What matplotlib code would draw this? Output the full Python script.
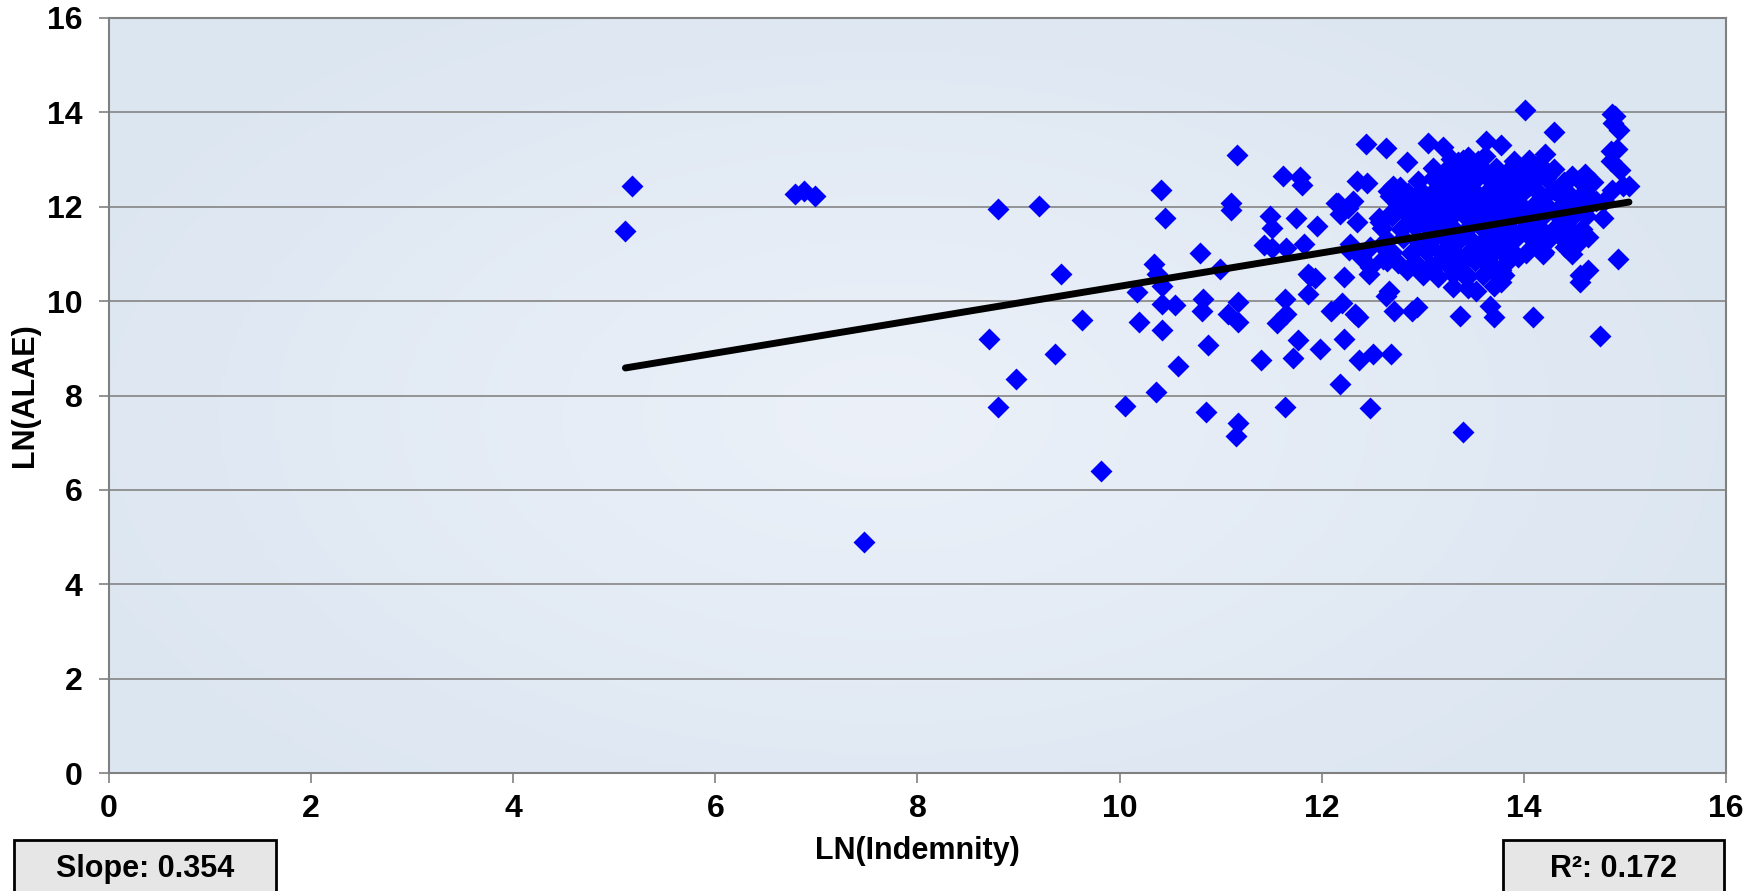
import numpy as np
import matplotlib
matplotlib.use("Agg")
import matplotlib.pyplot as plt
from matplotlib.patches import Rectangle

plt.rcParams['font.family'] = ['Liberation Sans', 'DejaVu Sans']
plt.rcParams['font.weight'] = 'bold'

# scattered claims
x_sparse = [5.11, 5.18, 6.79, 6.88, 6.99, 7.47, 8.71, 8.80, 8.80, 8.97, 9.20, 9.36, 9.42, 9.63, 9.82,
            10.05, 10.17, 10.19, 10.34, 10.37, 10.36, 10.41, 10.42, 10.42, 10.42, 10.45, 10.55, 10.58,
            10.80, 10.82, 10.83, 10.85, 10.87, 10.99, 11.07, 11.10, 11.10, 11.16, 11.17, 11.17, 11.15,
            11.17, 11.40, 11.43, 11.49, 11.51, 11.51, 11.56, 11.62, 11.64, 11.65, 11.64, 11.65, 11.72,
            11.75, 11.77, 11.79, 11.80, 11.82, 11.86, 11.86, 11.88, 11.93, 11.95, 11.98, 12.09, 12.14,
            12.16, 12.18, 12.18, 12.20, 12.22, 12.22, 12.26, 12.27, 12.28, 12.31, 12.33, 12.35, 12.35,
            12.36, 12.37, 12.39, 12.44, 12.45, 12.47, 12.48, 12.48, 12.48, 12.51, 12.57, 12.58, 12.59,
            12.61, 12.64, 12.64, 12.65, 12.66, 12.67, 12.68, 12.68, 12.68, 12.69, 12.71, 12.72, 12.77,
            12.84, 12.84, 12.89, 12.91, 12.94, 12.94, 12.98, 13.05, 13.04, 13.07, 13.11, 13.14, 13.17,
            13.20, 13.24, 13.24, 13.27, 13.34, 13.37, 13.40, 13.40, 13.40, 13.51, 13.53, 13.54, 13.57,
            13.57, 13.63, 13.67, 13.67, 13.67, 13.70, 13.70, 13.74, 13.77, 13.77, 13.77, 13.80, 13.80,
            13.80, 13.80, 13.86, 13.94, 13.97, 13.99, 14.01, 14.05, 14.07, 14.09, 14.13, 14.15, 14.19,
            14.19, 14.21, 14.25, 14.26, 14.30, 14.33, 14.35, 14.41, 14.46, 14.48, 14.48, 14.53, 14.55,
            14.56, 14.56, 14.61, 14.63, 14.63, 14.63, 14.68, 14.71, 14.75, 14.79, 14.86, 14.86, 14.87,
            14.87, 14.88, 14.90, 14.92, 14.93, 14.94, 14.95, 14.98, 15.04]
y_sparse = [11.48, 12.43, 12.27, 12.34, 12.22, 4.90, 9.20, 11.96, 7.75, 8.35, 12.01, 8.87, 10.58, 9.61, 6.40,
            7.77, 10.20, 9.56, 10.79, 10.58, 8.08, 12.35, 10.33, 9.94, 9.39, 11.77, 9.91, 8.62,
            11.01, 9.80, 10.05, 7.66, 9.08, 10.68, 9.73, 12.07, 11.94, 13.10, 9.98, 9.56, 7.14,
            7.41, 8.75, 11.20, 11.81, 11.55, 11.12, 9.53, 12.66, 10.05, 9.73, 7.75, 11.13, 8.80,
            11.77, 9.17, 12.62, 12.46, 11.21, 10.58, 10.16, 10.53, 10.49, 11.60, 8.99, 9.80, 12.08,
            12.09, 11.85, 8.25, 9.97, 9.20, 10.51, 11.98, 11.08, 11.21, 12.12, 9.73, 12.55, 11.67,
            9.66, 8.76, 10.94, 13.33, 12.51, 10.58, 10.72, 11.14, 7.74, 8.87, 11.77, 11.67, 11.20,
            10.89, 13.24, 10.11, 10.86, 12.34, 10.22, 12.22, 11.85, 11.07, 8.89, 12.44, 9.80, 12.41,
            12.95, 10.65, 9.80, 12.12, 9.87, 11.85, 12.18, 13.36, 10.65, 11.14, 12.33, 12.62, 10.86,
            13.26, 12.76, 12.12, 11.07, 12.40, 9.69, 13.00, 10.58, 7.22, 12.33, 10.22, 11.91, 12.87,
            10.93, 13.40, 12.19, 11.28, 9.90, 12.69, 9.66, 11.77, 13.31, 10.65, 10.40, 12.46, 11.49,
            11.00, 10.55, 12.12, 10.93, 11.84, 12.73, 14.05, 12.45, 11.42, 9.66, 11.77, 12.91, 12.19,
            11.00, 13.11, 12.69, 11.35, 13.59, 11.84, 12.26, 11.14, 11.49, 12.66, 11.00, 11.91, 12.19,
            10.55, 10.40, 12.69, 12.05, 11.35, 10.65, 12.52, 12.12, 9.27, 12.12, 13.19, 12.98, 13.96,
            12.36, 13.77, 13.93, 13.22, 10.89, 13.63, 12.77, 12.43, 12.43]

# dense core of the cloud (estimated, markers overlap heavily)
x_core = [13.28, 13.35, 13.45, 13.55, 13.62, 13.90, 14.05,
          13.10, 13.22, 13.30, 13.42, 13.50, 13.60, 13.72, 13.85, 14.00, 14.12, 14.30,
          12.95, 13.10, 13.20, 13.32, 13.45, 13.55, 13.68, 13.78, 13.92, 14.10, 14.22, 14.40, 14.55,
          12.85, 12.98, 13.15, 13.25, 13.38, 13.50, 13.62, 13.75, 13.88, 14.00, 14.15, 14.30, 14.45, 14.60,
          12.75, 12.90, 13.05, 13.20, 13.30, 13.45, 13.58, 13.70, 13.82, 13.95, 14.08, 14.22, 14.40, 14.52, 14.65,
          12.70, 12.85, 13.00, 13.12, 13.28, 13.40, 13.52, 13.65, 13.78, 13.90, 14.05, 14.20, 14.35, 14.50, 14.62, 14.78,
          12.60, 12.78, 12.92, 13.05, 13.18, 13.32, 13.45, 13.60, 13.72, 13.88, 14.00, 14.15, 14.30, 14.45, 14.58,
          12.65, 12.80, 12.95, 13.10, 13.25, 13.38, 13.50, 13.62, 13.75, 13.92, 14.10, 14.25, 14.40, 14.55,
          12.70, 12.88, 13.02, 13.18, 13.30, 13.45, 13.58, 13.70, 13.85, 14.02, 14.20,
          12.75, 12.92, 13.08, 13.22, 13.38, 13.52, 13.68, 13.82,
          13.00, 13.15, 13.30, 13.45, 13.60, 13.75,
          13.30, 13.45, 13.70]
y_core = [13.02, 12.95, 13.05, 12.98, 13.08, 12.96, 13.00,
          12.82, 12.76, 12.85, 12.78, 12.84, 12.75, 12.83, 12.78, 12.86, 12.74, 12.80,
          12.55, 12.60, 12.52, 12.58, 12.50, 12.62, 12.55, 12.50, 12.58, 12.54, 12.60, 12.52, 12.57,
          12.30, 12.34, 12.27, 12.32, 12.26, 12.35, 12.28, 12.31, 12.25, 12.33, 12.29, 12.36, 12.27, 12.31,
          12.05, 12.02, 12.08, 12.00, 12.06, 12.03, 12.09, 12.01, 12.05, 12.07, 12.00, 12.04, 12.08, 12.02, 12.06,
          11.80, 11.83, 11.77, 11.82, 11.78, 11.84, 11.76, 11.81, 11.79, 11.85, 11.77, 11.82, 11.78, 11.83, 11.80, 11.76,
          11.55, 11.52, 11.58, 11.54, 11.57, 11.50, 11.56, 11.53, 11.59, 11.51, 11.55, 11.58, 11.52, 11.56, 11.53,
          11.30, 11.33, 11.27, 11.32, 11.28, 11.34, 11.26, 11.31, 11.29, 11.33, 11.27, 11.31, 11.29, 11.25,
          11.05, 11.02, 11.08, 11.03, 11.07, 11.01, 11.06, 11.04, 11.08, 11.02, 11.05,
          10.80, 10.83, 10.77, 10.82, 10.78, 10.84, 10.79, 10.81,
          10.55, 10.52, 10.57, 10.53, 10.56, 10.51,
          10.30, 10.27, 10.33]

slope = 0.354
intercept = 6.775
r_squared = 0.172

x_all = np.array(x_sparse + x_core)
y_all = np.array(y_sparse + y_core)

fig = plt.figure(figsize=(17.61, 8.91), dpi=100)
ax = fig.add_axes([0.0619, 0.1324, 0.9182, 0.8474])

# soft radial gradient behind the plot
gx, gy = np.meshgrid(np.linspace(0, 1, 400), np.linspace(0, 1, 200))
d = np.sqrt(((gx - 0.48) / 0.55) ** 2 + ((gy - 0.47) / 0.65) ** 2)
t = np.clip(d, 0, 1)
c0 = np.array([236, 241, 249]) / 255.0
c1 = np.array([220, 230, 241]) / 255.0
img = c0[None, None, :] * (1 - t[..., None]) + c1[None, None, :] * t[..., None]
ax.imshow(img, extent=[0, 16, 0, 16], origin='lower', aspect='auto', zorder=0)

ax.set_xlim(0, 16)
ax.set_ylim(0, 16)
ax.set_xticks(np.arange(0, 17, 2))
ax.set_yticks(np.arange(0, 17, 2))
ax.yaxis.grid(True, color='#8c8c8c', linewidth=1.3, zorder=1)
ax.set_axisbelow(True)

ax.scatter(x_all, y_all, marker='D', s=125, color='#0000ff', linewidths=0, zorder=3)

xs = np.array([x_all.min(), x_all.max()])
ax.plot(xs, intercept + slope * xs, color='black', linewidth=5,
        solid_capstyle='round', zorder=4)

for sp in ax.spines.values():
    sp.set_color('#808080')
    sp.set_linewidth(1.5)
ax.tick_params(axis='both', colors='#808080', length=7, width=1.2,
               labelsize=23, labelcolor='black')
ax.tick_params(axis='x', pad=8)
ax.tick_params(axis='y', pad=12)
for lab in ax.get_xticklabels() + ax.get_yticklabels():
    lab.set_fontweight('bold')

ax.set_xlabel('LN(Indemnity)', fontsize=22, fontweight='bold')
ax.set_ylabel('LN(ALAE)', fontsize=22, fontweight='bold')
ax.xaxis.set_label_coords(0.5, -0.103)
ax.xaxis.label.set_va('center')
ax.yaxis.set_label_coords(-0.052, 0.5)
ax.yaxis.label.set_va('center')

# stat boxes along the bottom edge
for x0, x1, label in [(0.008, 0.157, 'Slope: %.3f' % slope),
                      (0.8535, 0.979, 'R²: %.3f' % r_squared)]:
    fig.patches.append(Rectangle((x0, -0.02), x1 - x0, 0.077, transform=fig.transFigure,
                                 facecolor='#e6e6e6', edgecolor='black', linewidth=2))
    fig.text((x0 + x1) / 2, 0.025, label, ha='center', va='center',
             fontsize=22, fontweight='bold')

fig.savefig('out.png', dpi=100)
